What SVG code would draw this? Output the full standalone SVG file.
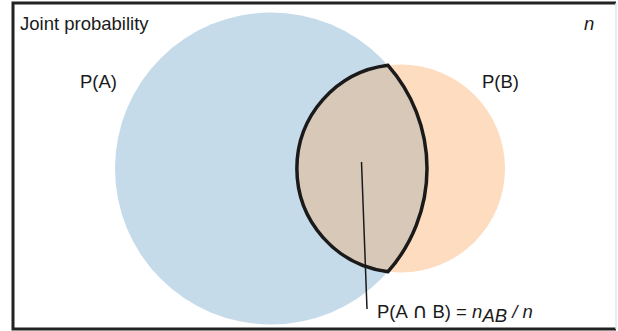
<svg xmlns="http://www.w3.org/2000/svg" width="618" height="331" viewBox="0 0 618 331">
<style>
.lbl{font-family:"Liberation Sans",Arial,sans-serif;font-size:18.5px;fill:#1a1a1a}
.it{font-style:italic}
</style>
<rect x="0" y="0" width="618" height="331" fill="#ffffff"/>
<g id="frame">
<path d="M616,3 H13 V329 H616" fill="none" stroke="#222" stroke-width="3"/>
<line x1="616" y1="3" x2="616" y2="329" stroke="#e6e6e6" stroke-width="1.5"/>
</g>
<g id="circleA"><circle cx="271" cy="168.5" r="156" fill="#c6dbea"/></g>
<g id="circleB"><circle cx="401" cy="168.5" r="104" fill="#fedcbf"/></g>
<g id="intersection">
<path d="M388,65.3 A104,104 0 0 0 388,271.7 A156,156 0 0 0 388,65.3 Z" fill="#d8c8b8" stroke="#1a1a1a" stroke-width="3.5" stroke-linejoin="miter"/>
</g>
<g id="connectors">
<line x1="361.5" y1="162" x2="367" y2="309" stroke="#1a1a1a" stroke-width="1.5"/>
</g>
<g id="labels">
<text class="lbl" x="20" y="30" font-size="19.5">Joint probability</text>
<text class="lbl it" x="584" y="30" font-size="19">n</text>
<text class="lbl" x="80" y="88">P(A)</text>
<text class="lbl" x="482" y="88">P(B)</text>
<text class="lbl" x="377" y="318">P(A <tspan font-family="'DejaVu Sans',sans-serif" font-size="21">∩</tspan> B) = <tspan class="it">n</tspan><tspan class="it" dy="4">AB</tspan><tspan class="it" dy="-4"> / n</tspan></text>
</g>
</svg>
